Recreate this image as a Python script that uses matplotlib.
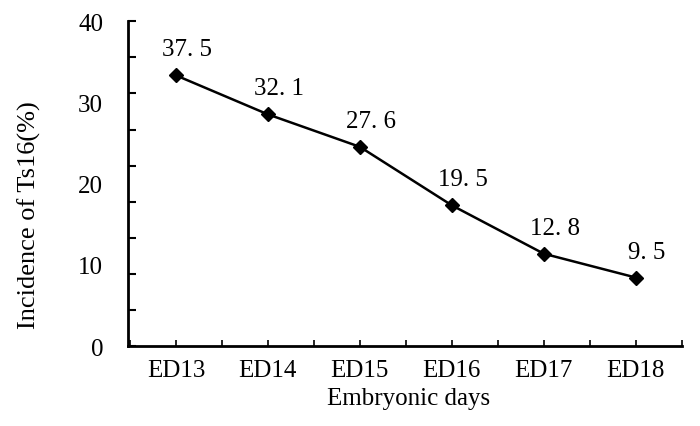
import numpy as np
import matplotlib.pyplot as plt

plt.rcParams['font.family'] = ['Liberation Serif', 'DejaVu Serif']

days = ['ED13', 'ED14', 'ED15', 'ED16', 'ED17', 'ED18']
incidence = [37.5, 32.1, 27.6, 19.5, 12.8, 9.5]
point_labels = ['37. 5', '32. 1', '27. 6', '19. 5', '12. 8', '9. 5']
y_labels = ['0', '10', '20', '30', '40']

fig = plt.figure(figsize=(7, 4.27), dpi=100)
ax = fig.add_axes([0.183, 0.187, 0.791, 0.761])

x = np.arange(len(days))
ax.plot(x, incidence, color='black', linewidth=1.8, marker='D', markersize=7)

for xi, yi, lab in zip(x, incidence, point_labels):
    ax.annotate(lab, (xi, yi), xytext=(11, 26), textcoords='offset pixels',
                ha='center', va='center', fontsize=18)

ax.set_xlim(-0.52, 5.5)
ax.set_ylim(0, 45)

# y axis: tick marks every 5, labels spread evenly over the axis (as in the original)
ax.yaxis.remove_overlapping_locs = False
ax.set_yticks(np.arange(0, 46, 5))
ax.set_yticklabels([])
ax.set_yticks(np.linspace(0, 45, len(y_labels)), labels=y_labels, minor=True)
ax.tick_params(axis='y', which='major', direction='in', length=6, width=1.5)
ax.tick_params(axis='y', which='minor', length=0, pad=18, labelsize=18)

# x axis: tick marks at categories and half-way between
ax.set_xticks(x, labels=days)
ax.set_xticks(np.arange(-0.5, 5.6, 1.0), minor=True)
ax.tick_params(axis='x', which='both', direction='in', length=4, width=1.2, pad=9, labelsize=18)

for s in ['top', 'right']:
    ax.spines[s].set_visible(False)
for s in ['left', 'bottom']:
    ax.spines[s].set_linewidth(2)

fig.text(409 / 700, 1 - 399 / 427, 'Embryonic days', ha='center', va='center', fontsize=18)
fig.text(29 / 700, 1 - 215 / 427, 'Incidence of Ts16(%)', ha='center', va='center',
         rotation=90, fontsize=19)

fig.savefig('out.png', dpi=100)
